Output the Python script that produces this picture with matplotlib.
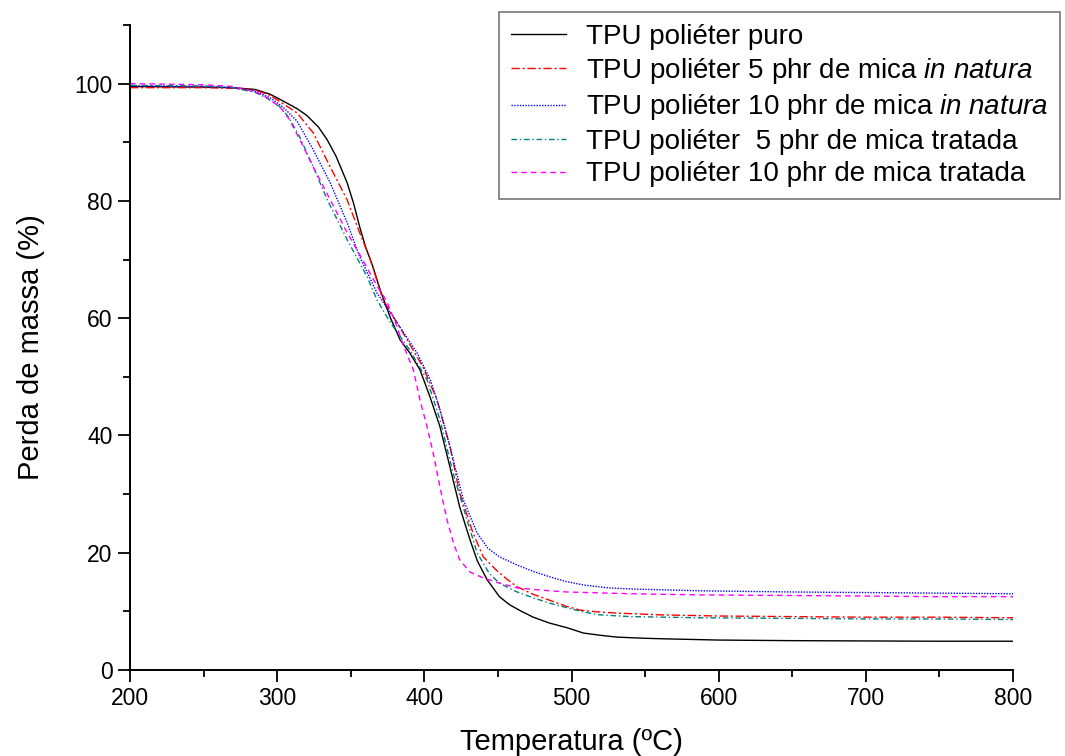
import matplotlib
matplotlib.use("Agg")
import matplotlib.pyplot as plt
from matplotlib.ticker import MultipleLocator

plt.rcParams["font.family"] = ["Liberation Sans", "DejaVu Sans"]
plt.rcParams["mathtext.fontset"] = "custom"
plt.rcParams["mathtext.rm"] = "Liberation Sans"
plt.rcParams["mathtext.it"] = "Liberation Sans:italic"

# curvas de TGA (temperatura em ºC, massa em %)
t_puro = [200, 250, 270, 285, 295, 302, 313, 320, 328, 334, 340, 347.5, 352, 356, 360,
          365, 370, 376.7, 383.5, 390, 397, 403.8, 410.6, 417.4, 424, 431, 436, 442.6,
          451, 458, 466, 474, 485, 497, 508, 520, 531, 550, 565, 600, 650, 700, 750, 800]
m_puro = [99.5, 99.4, 99.3, 99.0, 98.2, 97.3, 95.8, 94.6, 92.6, 90.4, 87.6, 83.1, 79.5,
          75.6, 72.2, 68.8, 64.8, 60.2, 56.3, 54.1, 51.2, 46.6, 41.5, 34.6, 27.8, 22.2,
          18.6, 15.4, 12.5, 11.1, 10.0, 9.0, 8.0, 7.2, 6.3, 5.9, 5.6, 5.4, 5.3, 5.1, 5.0,
          4.95, 4.9, 4.9]

t_5nat = [200, 250, 270, 285, 295, 302, 313.5, 324.5, 336, 347.5, 356, 363, 372, 385.5,
          399, 408.6, 417.4, 424, 433, 440, 449, 456, 463, 474, 485, 496, 506, 518, 531,
          560, 600, 650, 700, 750, 800]
m_5nat = [99.3, 99.3, 99.2, 98.9, 98.0, 96.9, 95.0, 91.6, 85.8, 80.2, 74.6, 70.2, 63.1,
          57.5, 51.7, 46.1, 38.1, 30.2, 23.4, 19.3, 17.0, 15.5, 14.2, 12.9, 11.9, 10.9,
          10.2, 9.9, 9.7, 9.4, 9.2, 9.1, 9.0, 9.0, 8.9]

t_10nat = [200, 250, 270, 285, 295, 304, 313.5, 324.5, 336, 347.5, 356, 367.8, 378, 386,
           395, 404, 410.5, 417.4, 426.5, 435.8, 443, 451, 463, 474, 485, 496, 508, 525,
           542, 587, 650, 700, 750, 800]
m_10nat = [99.6, 99.5, 99.3, 98.7, 97.6, 96.0, 93.6, 88.7, 83.1, 76.3, 70.5, 64.3, 60.5,
           57.5, 54.1, 49.5, 44.5, 38.1, 29.0, 23.4, 20.8, 19.3, 17.9, 16.8, 15.9, 15.1,
           14.5, 14.0, 13.8, 13.5, 13.3, 13.2, 13.1, 13.0]

t_5trat = [200, 250, 270, 285, 293, 302, 308, 315.5, 324.5, 334, 347.5, 361, 367.8, 374.6,
           379, 390, 401.8, 410.6, 419.5, 429, 435.8, 444, 451, 462, 474, 485, 497, 508,
           519, 540, 587, 650, 700, 750, 800]
m_5trat = [99.7, 99.6, 99.3, 98.5, 97.5, 96.0, 94.2, 90.8, 85.8, 80.2, 73.4, 67.1, 63.1,
           60.2, 58.5, 54.6, 49.5, 42.7, 33.6, 25.6, 20.0, 16.5, 14.8, 13.4, 12.3, 11.4,
           10.6, 9.9, 9.4, 9.1, 8.9, 8.8, 8.7, 8.7, 8.6]

t_10trat = [200, 250, 270, 285, 293, 302, 308, 315.5, 324.5, 336, 347.5, 358, 368, 374,
            380, 385.5, 392.5, 397, 401.8, 406, 410.6, 415.4, 420, 424, 431, 440, 450,
            463, 480, 497, 540, 587, 650, 700, 750, 800]
m_10trat = [100.0, 99.8, 99.5, 98.6, 97.6, 96.0, 94.0, 90.4, 85.8, 80.2, 74.6, 70.0, 65.4,
            63.1, 59.5, 55.5, 51.2, 46.1, 41.5, 37.0, 31.2, 25.6, 21.5, 18.8, 16.7, 15.7,
            14.9, 14.0, 13.6, 13.3, 13.0, 12.8, 12.7, 12.6, 12.5, 12.5]

rotulos = [
    "TPU poliéter puro",
    r"TPU poliéter 5 phr de mica $\it{in\ natura}$",
    r"TPU poliéter 10 phr de mica $\it{in\ natura}$",
    "TPU poliéter  5 phr de mica tratada",
    "TPU poliéter 10 phr de mica tratada",
]

fig = plt.figure(figsize=(10.65, 7.56), dpi=100)
ax = fig.add_axes([0.1221, 0.1138, 0.8291, 0.8532])

lw = 1.0
ax.plot(t_puro, m_puro, color="black", lw=lw, ls="-", label=rotulos[0])
ax.plot(t_5nat, m_5nat, color="#ff0000", lw=lw, ls=(0, (6, 2, 1.5, 2)), label=rotulos[1])
ax.plot(t_10nat, m_10nat, color="#0000ff", lw=lw, ls=(0, (1, 1)), label=rotulos[2])
ax.plot(t_5trat, m_5trat, color="#008080", lw=lw, ls=(0, (4, 2, 1, 2)), label=rotulos[3])
ax.plot(t_10trat, m_10trat, color="#ff00ff", lw=lw, ls=(0, (4, 3)), label=rotulos[4])

ax.set_xlim(200, 800)
ax.set_ylim(0, 110)
ax.xaxis.set_major_locator(MultipleLocator(100))
ax.xaxis.set_minor_locator(MultipleLocator(50))
ax.yaxis.set_major_locator(MultipleLocator(20))
ax.yaxis.set_minor_locator(MultipleLocator(10))
ax.set_yticks([0, 20, 40, 60, 80, 100])

for lado in ["top", "right"]:
    ax.spines[lado].set_visible(False)
for lado in ["left", "bottom"]:
    ax.spines[lado].set_linewidth(1.4)

ax.tick_params(which="major", direction="out", length=8.5, width=1.3, labelsize=16.5, pad=4)
ax.tick_params(which="minor", direction="out", length=5, width=1.3)

ax.set_xlabel("Temperatura (ºC)", fontsize=21, labelpad=13)
ax.set_ylabel("Perda de massa (%)", fontsize=21, labelpad=21)

leg = fig.legend(loc="upper left", bbox_to_anchor=(499 / 1065, 1 - 12 / 756),
                 borderaxespad=0, fontsize=20, frameon=True, fancybox=False,
                 handlelength=2.0, handletextpad=0.7, labelspacing=0.23,
                 borderpad=0.42)
leg.get_frame().set_edgecolor("#555555")
leg.get_frame().set_linewidth(1.2)

fig.savefig("out.png", dpi=100)
